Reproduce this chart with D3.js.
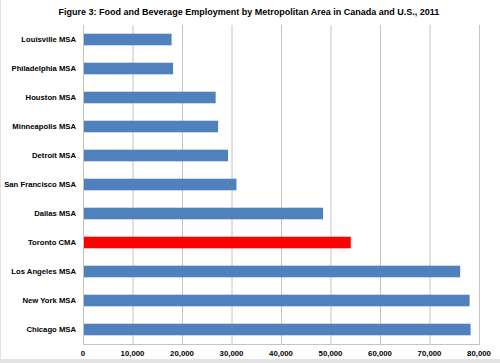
<!DOCTYPE html>
<html>
<head>
<meta charset="utf-8">
<script src="https://cdn.jsdelivr.net/npm/d3@7"></script>
<style>
  body { margin: 0; background: #fff; }
  text { font-family: "Liberation Sans", Arial, sans-serif; font-weight: bold; fill: #000; }
</style>
</head>
<body>
<div id="chart"></div>
<script>
// values, top to bottom
var areas = ["Louisville MSA", "Philadelphia MSA", "Houston MSA", "Minneapolis MSA",
  "Detroit MSA", "San Francisco MSA", "Dallas MSA", "Toronto CMA",
  "Los Angeles MSA", "New York MSA", "Chicago MSA"];
var employment = [17900, 18200, 26800, 27300, 29300, 31000, 48500, 54100, 76200, 78100, 78300];
var xTicks = [0, 10000, 20000, 30000, 40000, 50000, 60000, 70000, 80000];
var highlight = "Toronto CMA";

var W = 500, H = 363;
var svg = d3.select("#chart").append("svg").attr("width", W).attr("height", H);

// faint frame at left and bottom edge
svg.append("rect").attr("x", 0).attr("y", 359).attr("width", W).attr("height", 4).attr("fill", "#e3e3e3");
svg.append("rect").attr("x", 0).attr("y", 0).attr("width", 1).attr("height", H).attr("fill", "#e3e3e3");

var x = d3.scaleLinear().domain([0, 80000]).range([83, 479]);
var y = d3.scaleBand().domain(areas).range([25, 344]).paddingInner(0.6).paddingOuter(0.3);

var data = areas.map(function (a, i) { return { area: a, value: employment[i] }; });

svg.append("text")
  .attr("x", 249).attr("y", 15)
  .attr("text-anchor", "middle")
  .style("font-size", "9px")
  .text("Figure 3: Food and Beverage Employment by Metropolitan Area in Canada and U.S., 2011");

// vertical gridlines
svg.append("g").selectAll("line")
  .data(xTicks)
  .enter().append("line")
    .attr("x1", function (d) { return x(d) + 0.5; })
    .attr("x2", function (d) { return x(d) + 0.5; })
    .attr("y1", 25).attr("y2", 344)
    .attr("stroke", "#c4c4c4").attr("stroke-width", 1);

// bottom axis line
svg.append("line")
  .attr("x1", x(0)).attr("x2", x(80000) + 1)
  .attr("y1", 344.5).attr("y2", 344.5)
  .attr("stroke", "#c4c4c4");

svg.append("g").selectAll("rect")
  .data(data)
  .enter().append("rect")
    .attr("x", x(0) + 1)
    .attr("y", function (d) { return y(d.area); })
    .attr("width", function (d) { return x(d.value) - x(0) - 1; })
    .attr("height", y.bandwidth())
    .attr("fill", function (d) { return d.area === highlight ? "#ff0000" : "#4f81bd"; });

svg.append("g").selectAll("text")
  .data(areas)
  .enter().append("text")
    .attr("x", 76)
    .attr("y", function (d) { return y(d) + y.bandwidth() / 2; })
    .attr("dy", "0.35em")
    .attr("text-anchor", "end")
    .style("font-size", "7.7px")
    .text(function (d) { return d; });

svg.append("g").selectAll("text")
  .data(xTicks)
  .enter().append("text")
    .attr("x", function (d) { return x(d); })
    .attr("y", 356)
    .attr("text-anchor", "middle")
    .style("font-size", "7.8px")
    .text(function (d) { return d3.format(",")(d); });
</script>
</body>
</html>
